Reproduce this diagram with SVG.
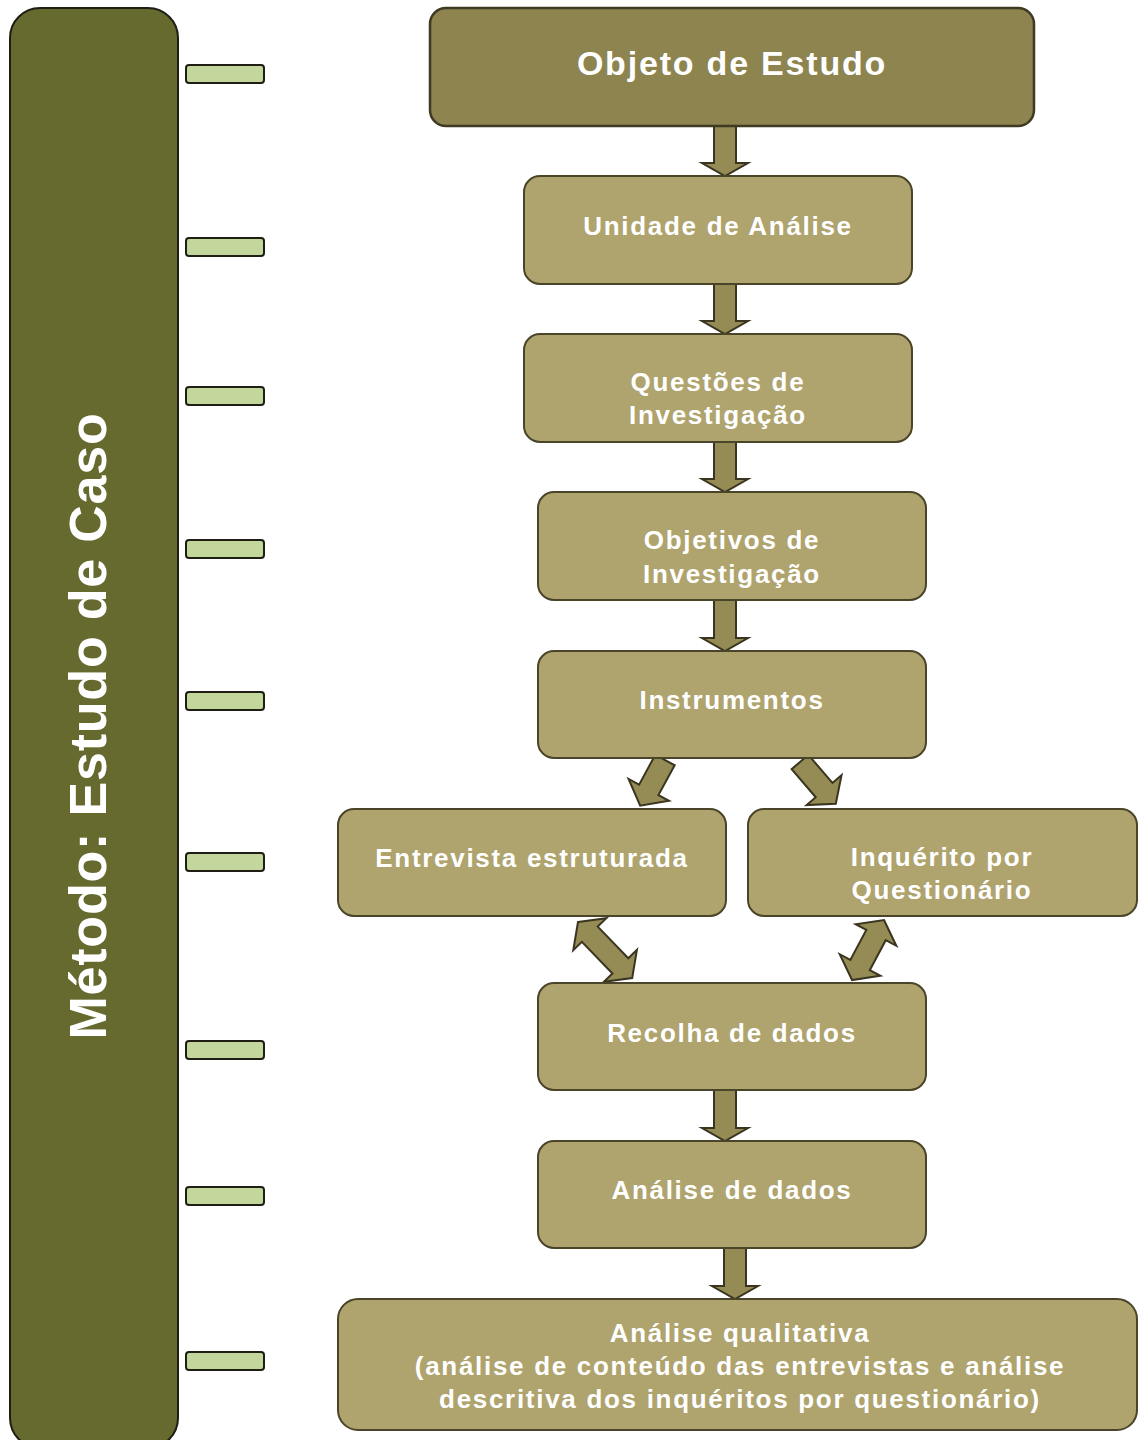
<svg xmlns="http://www.w3.org/2000/svg" width="1139" height="1440" viewBox="0 0 1139 1440">
<style>
.node{fill:#afa36e;stroke:#4a4428;stroke-width:2}
.top{fill:#8d8450;stroke:#3f3a22;stroke-width:2.5}
.tab{fill:#c3d69b;stroke:#1e1e14;stroke-width:2}
.arr{fill:#958b54;stroke:#3a3520;stroke-width:2;stroke-linejoin:miter}
.t{font-family:"Liberation Sans",Arial,sans-serif;font-weight:bold;fill:#ffffff;text-anchor:middle}
.n{font-size:26px;letter-spacing:1.7px}
</style>
<rect x="0" y="0" width="1139" height="1440" fill="#ffffff"/>
<g id="panel">
<rect x="10" y="8" width="168" height="1440" rx="30" fill="#666a2f" stroke="#1e1e14" stroke-width="2"/>
<text class="t" x="0" y="0" font-size="52" letter-spacing="0.8" transform="translate(106,726) rotate(-90)">Método: Estudo de Caso</text>
</g>
<g id="tabs">
<rect class="tab" x="186" y="65" width="78" height="18" rx="3"/>
<rect class="tab" x="186" y="238" width="78" height="18" rx="3"/>
<rect class="tab" x="186" y="387" width="78" height="18" rx="3"/>
<rect class="tab" x="186" y="540" width="78" height="18" rx="3"/>
<rect class="tab" x="186" y="692" width="78" height="18" rx="3"/>
<rect class="tab" x="186" y="853" width="78" height="18" rx="3"/>
<rect class="tab" x="186" y="1041" width="78" height="18" rx="3"/>
<rect class="tab" x="186" y="1187" width="78" height="18" rx="3"/>
<rect class="tab" x="186" y="1352" width="78" height="18" rx="3"/>
</g>
<g id="connectors">
<path class="arr" d="M714,126 L736,126 L736,163 L748,163 L725,176 L702,163 L714,163 Z"/>
<path class="arr" d="M714,284 L736,284 L736,321 L748,321 L725,334 L702,321 L714,321 Z"/>
<path class="arr" d="M714,442 L736,442 L736,479 L748,479 L725,492 L702,479 L714,479 Z"/>
<path class="arr" d="M714,600 L736,600 L736,638 L748,638 L725,651 L702,638 L714,638 Z"/>
<path class="arr" d="M714,1090 L736,1090 L736,1128 L748,1128 L725,1141 L702,1128 L714,1128 Z"/>
<path class="arr" d="M724,1248 L746,1248 L746,1286 L758,1286 L735,1299 L712,1286 L724,1286 Z"/>
<path class="arr" transform="translate(665,760) rotate(118.5)" d="M0,-11 L34,-11 L34,-23 L52,0 L34,23 L34,11 L0,11 Z"/>
<path class="arr" transform="translate(800,762) rotate(49.4)" d="M0,-11 L37,-11 L37,-23 L55,0 L37,23 L37,11 L0,11 Z"/>
<path class="arr" transform="translate(578,922) rotate(46)" d="M0,0 L17,-23 L17,-11 L61,-11 L61,-23 L78,0 L61,23 L61,11 L17,11 L17,23 Z"/>
<path class="arr" transform="translate(884,920) rotate(118)" d="M0,0 L17,-23 L17,-11 L51,-11 L51,-23 L68,0 L51,23 L51,11 L17,11 L17,23 Z"/>
</g>
<g id="objeto">
<rect class="top" x="430" y="8" width="604" height="118" rx="16"/>
<text class="t" x="732" y="75" font-size="34" letter-spacing="1.8">Objeto de Estudo</text>
</g>
<g id="unidade">
<rect class="node" x="524" y="176" width="388" height="108" rx="16"/>
<text class="t n" x="718" y="235">Unidade de Análise</text>
</g>
<g id="questoes">
<rect class="node" x="524" y="334" width="388" height="108" rx="16"/>
<text class="t n" x="718" y="391">Questões de</text>
<text class="t n" x="718" y="424">Investigação</text>
</g>
<g id="objetivos">
<rect class="node" x="538" y="492" width="388" height="108" rx="16"/>
<text class="t n" x="732" y="549">Objetivos de</text>
<text class="t n" x="732" y="583">Investigação</text>
</g>
<g id="instrumentos">
<rect class="node" x="538" y="651" width="388" height="107" rx="16"/>
<text class="t n" x="732" y="709">Instrumentos</text>
</g>
<g id="entrevista">
<rect class="node" x="338" y="809" width="388" height="107" rx="16"/>
<text class="t n" x="532" y="867">Entrevista estruturada</text>
</g>
<g id="inquerito">
<rect class="node" x="748" y="809" width="389" height="107" rx="16"/>
<text class="t n" x="942" y="866">Inquérito por</text>
<text class="t n" x="942" y="899">Questionário</text>
</g>
<g id="recolha">
<rect class="node" x="538" y="983" width="388" height="107" rx="16"/>
<text class="t n" x="732" y="1042">Recolha de dados</text>
</g>
<g id="analise">
<rect class="node" x="538" y="1141" width="388" height="107" rx="16"/>
<text class="t n" x="732" y="1199">Análise de dados</text>
</g>
<g id="qualitativa">
<rect class="node" x="338" y="1299" width="799" height="131" rx="20"/>
<text class="t n" x="740" y="1342">Análise qualitativa</text>
<text class="t n" x="740" y="1375">(análise de conteúdo das entrevistas e análise</text>
<text class="t n" x="740" y="1408">descritiva dos inquéritos por questionário)</text>
</g>
</svg>
